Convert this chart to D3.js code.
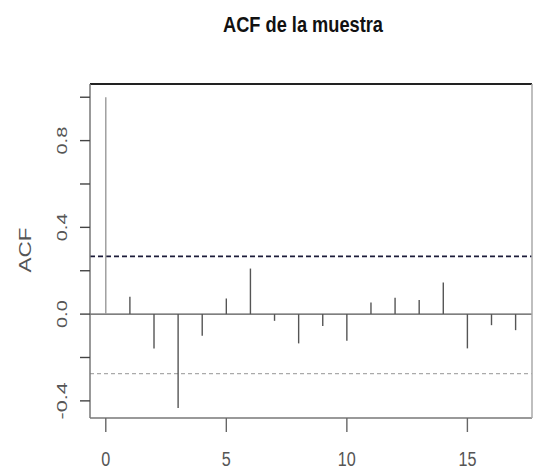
<!DOCTYPE html>
<html>
<head>
<meta charset="utf-8">
<script src="https://cdn.jsdelivr.net/npm/d3@7"></script>
<style>
  body { margin: 0; background: #fff; }
  text { font-family: "Liberation Sans", Arial, sans-serif; }
</style>
</head>
<body>
<svg id="chart"></svg>
<script>
// sample autocorrelation values, lags 0..17
const lags = d3.range(0, 18);
const acfValues = [1.0, 0.08, -0.158, -0.433, -0.10, 0.072, 0.21, -0.031, -0.135,
  -0.055, -0.123, 0.054, 0.075, 0.065, 0.146, -0.158, -0.051, -0.074];
// confidence bounds (upper, lower)
const bounds = [0.266, -0.274];
const xTicks = [0, 5, 10, 15];
const yTicks = [-0.4, -0.2, 0, 0.2, 0.4, 0.6, 0.8, 1.0];
const yLabels = [-0.4, 0, 0.4, 0.8];

const width = 535, height = 470;
const plotLeft = 90, plotRight = 532, plotTop = 84, plotBottom = 418;

const svg = d3.select("#chart")
  .attr("width", width)
  .attr("height", height);

const x = d3.scaleLinear().domain([-0.655, 17.68]).range([plotLeft, plotRight]);
const y = d3.scaleLinear().domain([-0.479, 1.061]).range([plotBottom, plotTop]);

// title
svg.append("text")
  .attr("x", 303)
  .attr("y", 32)
  .attr("text-anchor", "middle")
  .attr("font-size", 22)
  .attr("font-weight", "bold")
  .attr("fill", "#111")
  .attr("textLength", 160)
  .attr("lengthAdjust", "spacingAndGlyphs")
  .text("ACF de la muestra");

// confidence lines
svg.append("line")
  .attr("x1", plotLeft).attr("x2", plotRight)
  .attr("y1", y(bounds[0])).attr("y2", y(bounds[0]))
  .style("stroke", "#1c1c3a")
  .style("stroke-width", 1.6)
  .style("stroke-dasharray", "5,3");

svg.append("line")
  .attr("x1", plotLeft).attr("x2", plotRight)
  .attr("y1", y(bounds[1])).attr("y2", y(bounds[1]))
  .style("stroke", "#aaa")
  .style("stroke-width", 1.2)
  .style("stroke-dasharray", "4,3");

// zero line
svg.append("line")
  .attr("x1", plotLeft).attr("x2", plotRight)
  .attr("y1", y(0)).attr("y2", y(0))
  .style("stroke", "#555")
  .style("stroke-width", 1.3);

// acf spikes
svg.selectAll(".spike")
  .data(lags)
  .enter()
  .append("line")
  .attr("class", "spike")
  .attr("x1", d => x(d)).attr("x2", d => x(d))
  .attr("y1", y(0))
  .attr("y2", d => y(acfValues[d]))
  .style("stroke", d => d === 0 ? "#999" : "#555")
  .style("stroke-width", 1.4);

// plot box
svg.append("line").attr("x1", plotLeft).attr("x2", plotRight).attr("y1", plotTop).attr("y2", plotTop)
  .style("stroke", "#222").style("stroke-width", 2);
svg.append("line").attr("x1", plotLeft).attr("x2", plotLeft).attr("y1", plotTop).attr("y2", plotBottom)
  .style("stroke", "#777").style("stroke-width", 1.5);
svg.append("line").attr("x1", plotLeft).attr("x2", plotRight).attr("y1", plotBottom).attr("y2", plotBottom)
  .style("stroke", "#777").style("stroke-width", 1.5);
svg.append("line").attr("x1", plotRight).attr("x2", plotRight).attr("y1", plotTop).attr("y2", plotBottom)
  .style("stroke", "#aaa").style("stroke-width", 1.5);

// x axis ticks and labels
svg.selectAll(".xtick")
  .data(xTicks)
  .enter()
  .append("line")
  .attr("class", "xtick")
  .attr("x1", d => x(d)).attr("x2", d => x(d))
  .attr("y1", plotBottom).attr("y2", plotBottom + 14)
  .style("stroke", "#666")
  .style("stroke-width", 1.4);

svg.selectAll(".xlabel")
  .data(xTicks)
  .enter()
  .append("text")
  .attr("class", "xlabel")
  .attr("x", d => x(d))
  .attr("y", 466)
  .attr("text-anchor", "middle")
  .attr("font-size", 20)
  .attr("fill", "#555")
  .attr("textLength", d => String(d).length * 9)
  .attr("lengthAdjust", "spacingAndGlyphs")
  .text(d => d);

// y axis ticks and labels
const fmt = d => d3.format(".1f")(d).replace("−", "-");

svg.selectAll(".ytick")
  .data(yTicks)
  .enter()
  .append("line")
  .attr("class", "ytick")
  .attr("x1", plotLeft - 10).attr("x2", plotLeft)
  .attr("y1", d => y(d)).attr("y2", d => y(d))
  .style("stroke", "#444")
  .style("stroke-width", 1.4);

svg.selectAll(".ylabel")
  .data(yLabels)
  .enter()
  .append("text")
  .attr("class", "ylabel")
  .attr("transform", d => `translate(67,${y(d)}) rotate(-90)`)
  .attr("text-anchor", "middle")
  .attr("font-size", 15)
  .attr("fill", "#555")
  .attr("textLength", d => fmt(d).length * 9.3)
  .attr("lengthAdjust", "spacingAndGlyphs")
  .text(fmt);

// y axis title
svg.append("text")
  .attr("transform", "translate(31,250) rotate(-90)")
  .attr("text-anchor", "middle")
  .attr("font-size", 16)
  .attr("fill", "#555")
  .attr("textLength", 45)
  .attr("lengthAdjust", "spacingAndGlyphs")
  .text("ACF");
</script>
</body>
</html>
